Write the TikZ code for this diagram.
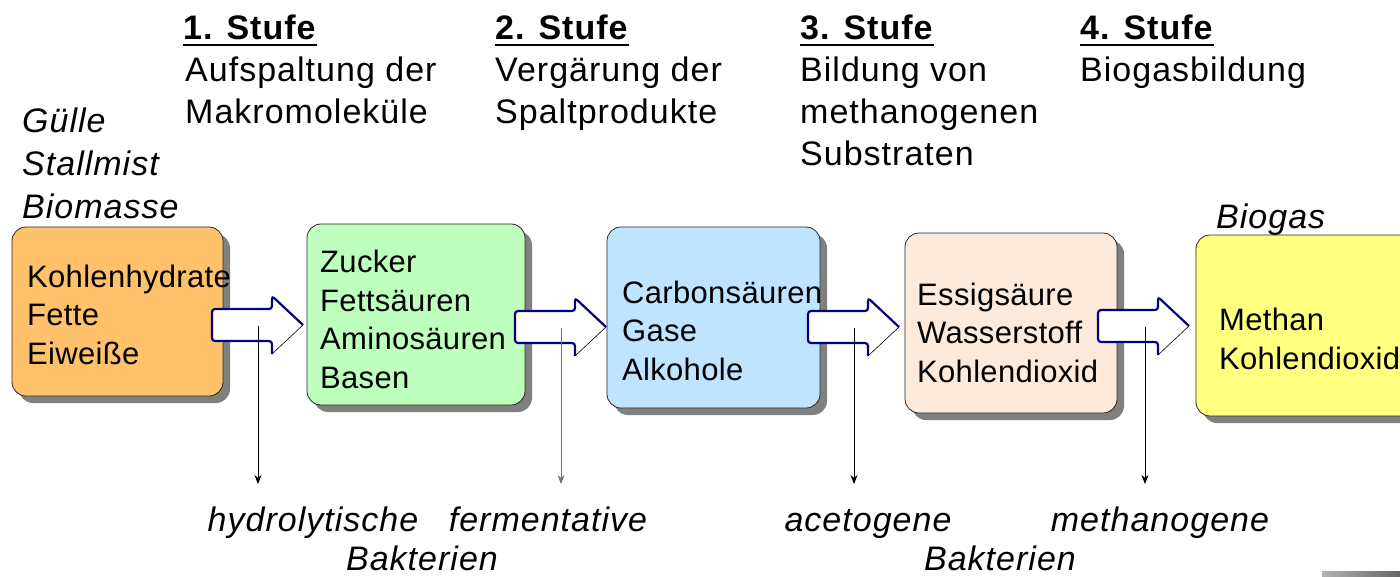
\documentclass[tikz,border=0pt]{standalone}
\usepackage{fontspec}
\setmainfont{Liberation Sans}
\newfontfamily\headfam{Liberation Sans}[LetterSpace=3]
\newfontfamily\boxfam{Liberation Sans}[LetterSpace=1]
\usetikzlibrary{shadows,arrows.meta}

\definecolor{hydroorange}{RGB}{255,193,106}
\definecolor{fermgreen}{RGB}{190,255,190}
\definecolor{acidblue}{RGB}{191,228,255}
\definecolor{acetpeach}{RGB}{253,234,218}
\definecolor{gasyellow}{RGB}{255,255,128}
\definecolor{arrowblue}{RGB}{0,0,128}

\newcommand{\headfont}{\headfam\fontsize{34}{42}\selectfont}
\newcommand{\inputfont}{\headfam\itshape\fontsize{34}{43}\selectfont}
\newcommand{\boxfont}{\boxfam\fontsize{31}{38.5}\selectfont}

% white block arrow: #1 = left end, #2 = middle height
\newcommand{\blockarrow}[2]{%
  \fill[white, rounded corners=3pt] (#1,#2-16) -- (#1+60,#2-16) -- (#1+60,#2-29)
    -- (#1+91,#2) -- (#1+60,#2+29) -- (#1+60,#2+16) -- (#1,#2+16) -- cycle;
  \draw[arrowline] (#1+91,#2) -- (#1+60,#2-29) -- (#1+60,#2-16) -- (#1,#2-16)
    -- (#1,#2+16) -- (#1+60,#2+16) -- (#1+60,#2+29);
  \draw[black, line width=0.6pt] (#1+60,#2+29) -- (#1+91,#2);
}

\begin{document}
\begin{tikzpicture}[x=1pt, y=-1pt,
    stagebox/.style={draw=black!85, line width=0.8pt, rounded corners=14pt,
      drop shadow={shadow xshift=7pt, shadow yshift=-7pt, fill=black!50, opacity=1}},
    boxtext/.style={anchor=base west, align=left, inner sep=0pt, font=\boxfont},
    headtext/.style={anchor=base west, align=left, inner sep=0pt, font=\headfont},
    inputtext/.style={anchor=base west, align=left, inner sep=0pt, font=\inputfont},
    bactlabel/.style={anchor=base, inner sep=0pt, font=\headfam\itshape\fontsize{34}{42}\selectfont},
    stufeline/.style={line width=2pt},
    arrowline/.style={draw=arrowblue, line width=2.2pt, rounded corners=3pt},
    bactline/.style={-{Stealth[length=9pt,width=7pt]}, line width=0.8pt}]
  \useasboundingbox (0,0) rectangle (1400,576);

  % stages (base = last line)
  \node[headtext] (s1) at (183,39) {\textbf{1. Stufe}};
  \node[headtext] (s2) at (495,39) {\textbf{2. Stufe}};
  \node[headtext] (s3) at (800,39) {\textbf{3. Stufe}};
  \node[headtext] (s4) at (1080,39) {\textbf{4. Stufe}};
  \foreach \s in {s1,s2,s3,s4}
    \draw[stufeline] ([yshift=-5pt]\s.south west) -- ([yshift=-5pt]\s.south east);
  \node[headtext] (d1) at (185,123) {Aufspaltung der\\Makromoleküle};
  \node[headtext] (d2) at (495,123) {Vergärung der\\Spaltprodukte};
  \node[headtext] (d3) at (800,165) {Bildung von\\methanogenen\\Substraten};
  \node[headtext] (d4) at (1080,81) {Biogasbildung};

  \node[inputtext] (in) at (22,218) {Gülle\\Stallmist\\Biomasse};
  \node[inputtext] (out) at (1216,228) {Biogas};

  % boxes
  \node[stagebox, fill=hydroorange, minimum width=211, minimum height=169] (b1) at (117.5,311.5) {};
  \node[stagebox, fill=fermgreen, minimum width=218, minimum height=181] (b2) at (416,314.5) {};
  \node[stagebox, fill=acidblue, minimum width=213, minimum height=181] (b3) at (713.5,317.5) {};
  \node[stagebox, fill=acetpeach, minimum width=212, minimum height=180] (b4) at (1011,323) {};
  \node[stagebox, fill=gasyellow, minimum width=224, minimum height=181] (b5) at (1308,325.5) {};

  \node[boxtext] (t1) at (27,364) {Kohlenhydrate\\Fette\\Eiweiße};
  \node[boxtext] (t2) at (320,388) {Zucker\\Fettsäuren\\Aminosäuren\\Basen};
  \node[boxtext] (t3) at (622,380) {Carbonsäuren\\Gase\\Alkohole};
  \node[boxtext] (t4) at (917,382) {Essigsäure\\Wasserstoff\\Kohlendioxid};
  \node[boxtext] (t5) at (1219,369) {Methan\\Kohlendioxid};

  % block arrows
  \blockarrow{212}{325}
  \blockarrow{515}{327}
  \blockarrow{808}{327}
  \blockarrow{1098}{326}

  % bacteria
  \coordinate (a1) at (258,326);
  \coordinate (a2) at (561,328);
  \coordinate (a3) at (854,328);
  \coordinate (a4) at (1145,327);
  \coordinate (e1) at (258,484);
  \coordinate (e2) at (561,484);
  \coordinate (e3) at (854,484);
  \coordinate (e4) at (1145,484);
  \draw[bactline] (a1) -- (e1);
  \draw[bactline, draw=black!55] (a2) -- (e2);
  \draw[bactline] (a3) -- (e3);
  \draw[bactline] (a4) -- (e4);

  \node[bactlabel] (k1) at (313,531) {hydrolytische};
  \node[bactlabel] (k2) at (548,531) {fermentative};
  \node[bactlabel] (k3) at (868,531) {acetogene};
  \node[bactlabel] (k4) at (1160,531) {methanogene};
  \node[bactlabel] (bk1) at (422,570) {Bakterien};
  \node[bactlabel] (bk2) at (1000,570) {Bakterien};

  \shade[left color=black!30, right color=black!60] (1322,571) rectangle (1400,576);
\end{tikzpicture}
\end{document}
